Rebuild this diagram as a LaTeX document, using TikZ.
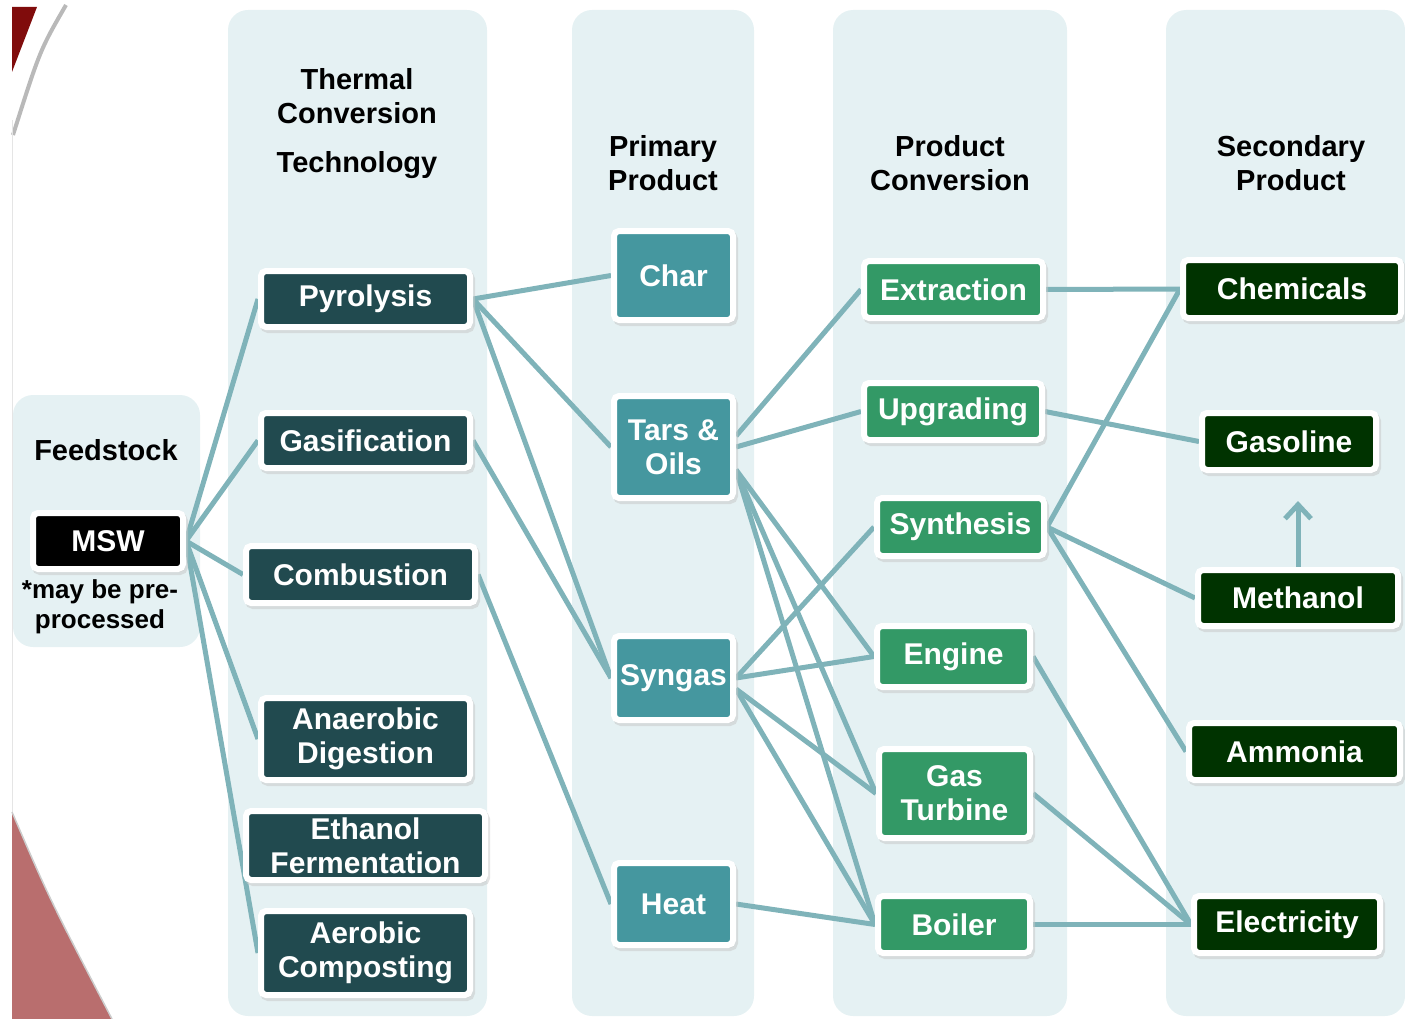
\documentclass[tikz,border=0pt]{standalone}
\usepackage{fontspec}
\setmainfont{Liberation Sans}
\usetikzlibrary{positioning,arrows.meta,shadows}

\definecolor{colbg}{RGB}{229,241,243}
\definecolor{techcol}{RGB}{33,74,79}
\definecolor{primcol}{RGB}{69,151,159}
\definecolor{convcol}{RGB}{51,153,102}
\definecolor{seccol}{RGB}{0,51,0}
\definecolor{linecol}{RGB}{127,179,185}
\definecolor{darkred}{RGB}{128,12,12}
\definecolor{pinkred}{RGB}{185,110,110}

\pgfdeclarelayer{back}
\pgfdeclarelayer{lines}
\pgfsetlayers{back,lines,main}

\tikzset{
    colbox/.style={fill=colbg, rounded corners=20pt},
    head/.style={font=\fontsize{29}{34}\selectfont\bfseries, align=center, inner sep=0pt},
    box/.style={draw=white, line width=6pt, rounded corners=5pt, text=white, inner sep=2pt, align=center, anchor=north west,
        font=\fontsize{30}{34}\selectfont\bfseries,
        drop shadow={shadow xshift=2pt, shadow yshift=-3pt, fill=black!22, draw=black!22, line width=6pt}},
    feed/.style={box, fill=black},
    tech/.style={box, fill=techcol},
    prim/.style={box, fill=primcol},
    conv/.style={box, fill=convcol},
    sec/.style={box, fill=seccol},
    flow/.style={draw=linecol, line width=5pt}
}

\begin{document}
\begin{tikzpicture}[x=1pt, y=-1pt]
        \useasboundingbox (0,0) rectangle (1405,1019);

        \begin{pgfonlayer}{back}
        \fill[darkred] (12,7) -- (37,7) -- (12,72) -- cycle;
        \draw[gray!55, line width=4pt] (66,5) .. controls (40,50) .. (13,135);
        \draw[gray!20, line width=1pt] (12,120) -- (12,830);
        \fill[pinkred] (12,812) .. controls (50,900) .. (112,1019) -- (12,1019) -- cycle;
        \draw[gray!40, line width=1.5pt] (12,812) .. controls (50,900) .. (112,1019);

        \fill[colbox] (13,395) rectangle (200,647);
        \fill[colbox] (228,10) rectangle (487,1016);
        \fill[colbox] (572,10) rectangle (754,1016);
        \fill[colbox] (833,10) rectangle (1067,1016);
        \fill[colbox] (1166,10) rectangle (1405,1016);
        \end{pgfonlayer}

        \node (feedhead) [head] at (106,450) {Feedstock};
        \node (techhead) [head] at (357,124) {Thermal\\Conversion\\[15pt]Technology};
        \node (primhead) [head] at (663,163) {Primary\\Product};
        \node (convhead) [head] at (950,163) {Product\\Conversion};
        \node (sechead) [head] at (1291,163) {Secondary\\Product};

        \node (msw) [feed, minimum width=150pt, minimum height=56pt] at (30,510) {MSW};
        \node (note) [font=\fontsize{26}{30}\selectfont\bfseries, align=center, inner sep=0pt] at (100,607) {*may be pre-\\processed};

        \node (pyro) [tech, minimum width=209pt, minimum height=56pt] at (258,268) {Pyrolysis};
        \node (gasif) [tech, minimum width=209pt, minimum height=55pt] at (258,410) {Gasification};
        \node (combu) [tech, minimum width=229pt, minimum height=57pt] at (243,543) {Combustion};
        \node (anaer) [tech, minimum width=209pt, minimum height=82pt] at (258,695) {Anaerobic\\Digestion};
        \node (ethan) [tech, minimum width=239pt, minimum height=69pt] at (243,808) {Ethanol\\Fermentation};
        \node (aerob) [tech, minimum width=209pt, minimum height=84pt] at (258,908) {Aerobic\\Composting};

        \node (char) [prim, minimum width=119pt, minimum height=89pt] at (611,228) {Char};
        \node (tars) [prim, minimum width=119pt, minimum height=102pt] at (611,393) {Tars \&\\Oils};
        \node (syngas) [prim, minimum width=119pt, minimum height=84pt] at (611,633) {Syngas};
        \node (heat) [prim, minimum width=119pt, minimum height=82pt] at (611,860) {Heat};

        \node (extr) [conv, minimum width=179pt, minimum height=57pt] at (861,258) {Extraction};
        \node (upgr) [conv, minimum width=178pt, minimum height=57pt] at (861,380) {Upgrading};
        \node (synth) [conv, minimum width=167pt, minimum height=58pt] at (874,495) {Synthesis};
        \node (engine) [conv, minimum width=153pt, minimum height=61pt] at (874,623) {Engine};
        \node (turbine) [conv, minimum width=151pt, minimum height=89pt] at (876,746) {Gas\\Turbine};
        \node (boiler) [conv, minimum width=152pt, minimum height=57pt] at (875,893) {Boiler};

        \node (chem) [sec, minimum width=218pt, minimum height=58pt] at (1180,257) {Chemicals};
        \node (gasoline) [sec, minimum width=174pt, minimum height=57pt] at (1199,410) {Gasoline};
        \node (meth) [sec, minimum width=200pt, minimum height=56pt] at (1195,567) {Methanol};
        \node (ammon) [sec, minimum width=211pt, minimum height=57pt] at (1186,720) {Ammonia};
        \node (elec) [sec, minimum width=186pt, minimum height=57pt] at (1191,893) {Electricity};

        \begin{pgfonlayer}{lines}
        \draw[flow] (msw.east) -- (pyro.west);
        \draw[flow] (msw.east) -- (gasif.west);
        \draw[flow] (msw.east) -- (combu.west);
        \draw[flow] (msw.east) -- (anaer.west);
        \draw[flow] (msw.east) -- (aerob.west);

        \draw[flow] (pyro.east) -- (char.west);
        \draw[flow] (pyro.east) -- (tars.west);
        \draw[flow] (pyro.east) -- (syngas.west);
        \draw[flow] (gasif.east) -- (syngas.west);
        \draw[flow] (combu.east) -- (heat.west);

        \draw[flow] (tars.10) -- (extr.west);
        \draw[flow] (tars.east) -- (upgr.west);
        \draw[flow] (tars.-20) -- (engine.west);
        \draw[flow] (tars.-20) -- (turbine.west);
        \draw[flow] (tars.-20) -- (boiler.west);
        \draw[flow] (syngas.east) -- (synth.west);
        \draw[flow] (syngas.east) -- (engine.west);
        \draw[flow] (syngas.-10) -- (turbine.west);
        \draw[flow] (syngas.-10) -- (boiler.west);
        \draw[flow] (heat.east) -- (boiler.west);

        \draw[flow] (extr.east) -- (chem.west);
        \draw[flow] (upgr.east) -- (gasoline.west);
        \draw[flow] (synth.east) -- (chem.west);
        \draw[flow] (synth.east) -- (meth.west);
        \draw[flow] (synth.east) -- (ammon.west);
        \draw[flow] (engine.east) -- (elec.west);
        \draw[flow] (turbine.east) -- (elec.west);
        \draw[flow] (boiler.east) -- (elec.west);
        \draw[flow, -{Straight Barb[length=14pt, width=26pt]}, shorten >=28pt] (meth.north) -- (meth.north |- gasoline.south);
        \end{pgfonlayer}
    \end{tikzpicture}
\end{document}
